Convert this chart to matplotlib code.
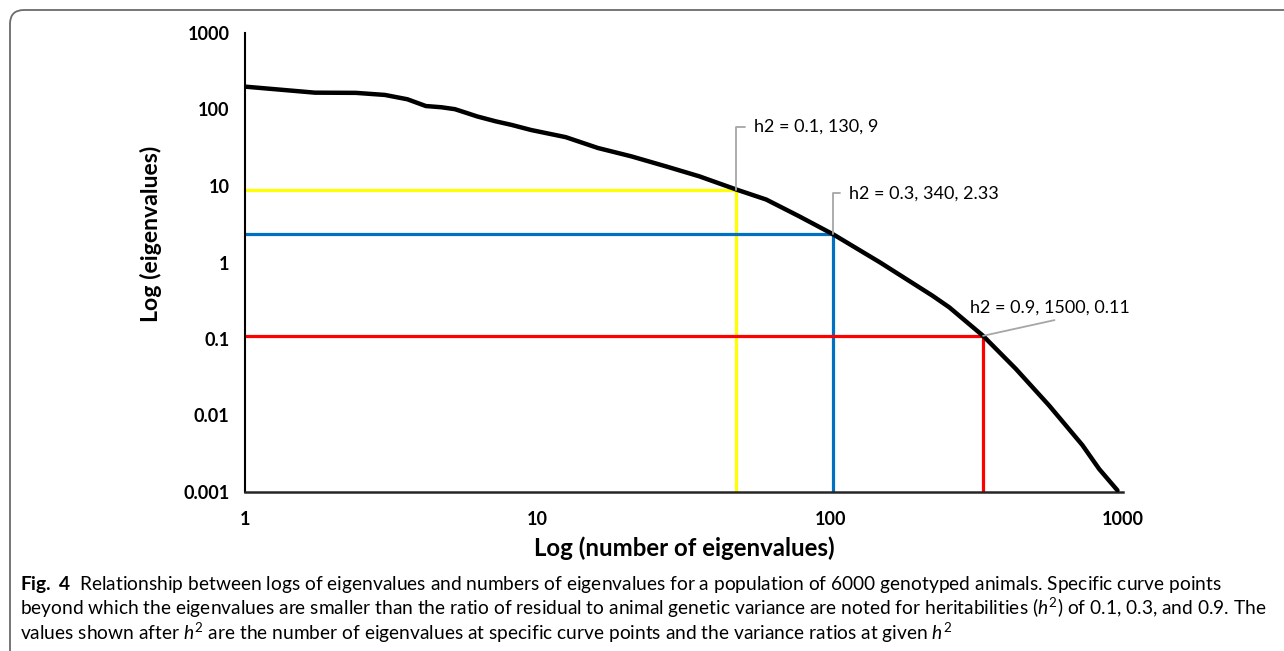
import matplotlib
matplotlib.use("Agg")
import matplotlib.pyplot as plt
from matplotlib.patches import FancyBboxPatch
from matplotlib.ticker import NullLocator
from matplotlib.transforms import IdentityTransform

plt.rcParams["font.family"] = ["Lato", "DejaVu Sans"]
plt.rcParams["mathtext.fontset"] = "custom"
plt.rcParams["mathtext.rm"] = "Lato"
plt.rcParams["mathtext.it"] = "Lato:italic"
plt.rcParams["mathtext.bf"] = "Lato:bold"

# Eigenvalue spectrum (number of eigenvalues vs eigenvalue)
n_eigen = [1, 2, 3, 4, 5, 6, 7, 8, 9, 10, 12, 14, 17, 24, 33, 46, 65, 90, 130,
           175, 242, 340, 541, 906, 1072, 1500, 2075, 2886, 4012, 4736, 5680]
eigenvalue = [199, 166, 165, 155, 136, 111, 107, 101, 90, 81, 70, 63, 54, 43.5,
              31.4, 24.4, 18, 13.4, 9, 6.65, 4.03, 2.33, 1.0, 0.37, 0.26, 0.11,
              0.0407, 0.0135, 0.0041, 0.0020, 0.00105]

# Curve points for each heritability: h2, number of eigenvalues, variance ratio
h2_values = [0.1, 0.3, 0.9]
h2_counts = [130, 340, 1500]
h2_ratios = [9, 2.33, 0.11]
h2_colors = ["#FFFF00", "#0070C0", "#FF0000"]

y_ticks = [0.001, 0.01, 0.1, 1, 10, 100, 1000]
y_tick_labels = ["0.001", "0.01", "0.1", "1", "10", "100", "1000"]
x_tick_labels = ["1", "10", "100", "1000"]

W, H = 1284, 651
fig = plt.figure(figsize=(W / 100, H / 100), dpi=100)
fig.patch.set_facecolor("white")

# rounded frame around figure and caption
frame = FancyBboxPatch((10, -60), 1320, 701,
                       boxstyle="round,pad=0,rounding_size=14",
                       transform=IdentityTransform(), fill=False,
                       edgecolor="#6b6b6b", linewidth=1.3)
fig.patches.append(frame)

ax = fig.add_axes([245 / W, 1 - 492 / H, (1123 - 245) / W, (492 - 33) / H])
ax.set_xscale("log")
ax.set_yscale("log")
ax.set_xlim(1, 6000)
ax.set_ylim(0.001, 1000)

for n, r, c in zip(h2_counts, h2_ratios, h2_colors):
    ax.plot([1, n], [r, r], color=c, lw=2.3, solid_capstyle="butt", zorder=2)
    ax.plot([n, n], [0.001, r], color=c, lw=2.3, solid_capstyle="butt", zorder=2)

ax.plot(n_eigen, eigenvalue, color="black", lw=3.2, zorder=3,
        solid_joinstyle="round", solid_capstyle="round")

for side in ("top", "right"):
    ax.spines[side].set_visible(False)
ax.spines["left"].set_color("black")
ax.spines["left"].set_linewidth(1.5)
ax.spines["bottom"].set_color("#262626")
ax.spines["bottom"].set_linewidth(1.8)

ax.xaxis.set_minor_locator(NullLocator())
ax.yaxis.set_minor_locator(NullLocator())
ax.set_xticks([])
ax.set_yticks(y_ticks)
ax.set_yticklabels(y_tick_labels, fontsize=13, fontweight="bold")
ax.tick_params(axis="y", length=0, pad=11)

# category-style labels spread evenly along the horizontal axis
for i, lab in enumerate(x_tick_labels):
    ax.text(i / (len(x_tick_labels) - 1), -0.061, lab, transform=ax.transAxes,
            ha="center", va="center", fontsize=13, fontweight="bold")

ax.set_xlabel("Log (number of eigenvalues)", fontsize=17.3, fontweight="bold",
              labelpad=32)
ax.set_ylabel("Log (eigenvalues)", fontsize=16.6, fontweight="bold")
ax.yaxis.set_label_coords(-0.095, 0.562)

leader = dict(arrowstyle="-", color="#A6A6A6", lw=1.3)
offsets = [(18, 63), (16, 41), (-13, 28)]
for k, (h, n, r) in enumerate(zip(h2_values, h2_counts, h2_ratios)):
    label = f"h2 = {h:g}, {n}, {r:g}"
    if k < 2:
        props = dict(leader, connectionstyle="angle,angleA=0,angleB=90,rad=0",
                     relpos=(0, 0.5), shrinkA=5, shrinkB=0)
    else:
        props = dict(leader, relpos=(0.65, 0), shrinkA=5, shrinkB=0)
    ax.annotate(label, xy=(n, r), xytext=offsets[k], textcoords="offset pixels",
                ha="left", va="center", fontsize=13, arrowprops=props, zorder=4)

caption = [
    r"$\mathbf{Fig.\ 4}$  Relationship between logs of eigenvalues and numbers of eigenvalues "
    r"for a population of 6000 genotyped animals. Specific curve points",
    r"beyond which the eigenvalues are smaller than the ratio of residual to animal genetic "
    r"variance are noted for heritabilities ($h^2$) of 0.1, 0.3, and 0.9. The",
    r"values shown after $h^2$ are the number of eigenvalues at specific curve points and "
    r"the variance ratios at given $h^2$",
]
for j, line in enumerate(caption):
    fig.text(20 / W, 1 - (590 + 25 * j) / H, line, ha="left", va="baseline",
             fontsize=13.8)

fig.savefig("out.png", dpi=100, facecolor="white")
